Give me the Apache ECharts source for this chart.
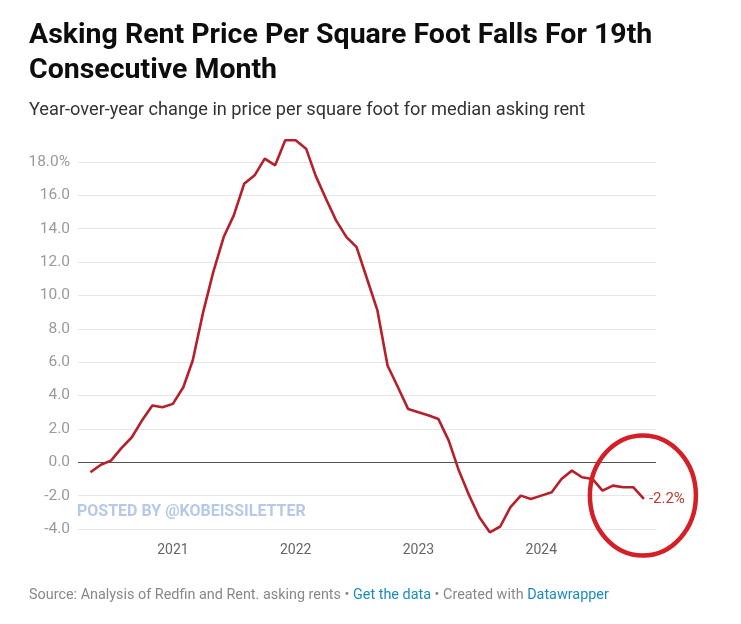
<!DOCTYPE html>
<html>
<head>
<meta charset="utf-8">
<script src="https://cdn.jsdelivr.net/npm/echarts@6/dist/echarts.min.js"></script>
<style>
html,body{margin:0;padding:0;background:#fff;}
#chart{width:741px;height:624px;}
</style>
</head>
<body>
<div id="chart"></div>
<script>
// Monthly observations (first of month)
const months = [
  '2020-05','2020-06','2020-07','2020-08','2020-09','2020-10','2020-11','2020-12',
  '2021-01','2021-02','2021-03','2021-04','2021-05','2021-06','2021-07','2021-08','2021-09','2021-10','2021-11','2021-12',
  '2022-01','2022-02','2022-03','2022-04','2022-05','2022-06','2022-07','2022-08','2022-09','2022-10','2022-11','2022-12',
  '2023-01','2023-02','2023-03','2023-04','2023-05','2023-06','2023-07','2023-08','2023-09','2023-10','2023-11','2023-12',
  '2024-01','2024-02','2024-03','2024-04','2024-05','2024-06','2024-07','2024-08','2024-09','2024-10','2024-11'
];
// Year-over-year change in price per sq ft, median asking rent (%)
const rentYoY = [
  -0.6, -0.15, 0.1, 0.85, 1.5, 2.5, 3.4, 3.3,
  3.5, 4.5, 6.1, 9.0, 11.4, 13.5, 14.8, 16.7, 17.2, 18.2, 17.8, 19.3,
  19.3, 18.8, 17.2, 15.8, 14.5, 13.5, 12.9, 11.0, 9.1, 5.8, 4.5, 3.2,
  3.0, 2.8, 2.6, 1.3, -0.5, -2.0, -3.3, -4.2, -3.85, -2.7, -2.0, -2.2,
  -2.0, -1.8, -1.0, -0.5, -0.9, -1.0, -1.7, -1.4, -1.5, -1.5, -2.2
];
const yearTicks = ['2021', '2022', '2023', '2024'];
const yTicks = [-4, -2, 0, 2, 4, 6, 8, 10, 12, 14, 16, 18];

const toTime = s => new Date(+s.slice(0, 4), +s.slice(5, 7) - 1, +(s.slice(8, 10) || 1)).getTime();
const seriesData = months.map((m, i) => [toTime(m), rentYoY[i]]);

const FONT = 'Roboto, "Noto Sans", sans-serif';
const chart = echarts.init(document.getElementById('chart'), null, {renderer: 'canvas'});

const option = {
  backgroundColor: '#ffffff',
  animation: false,
  textStyle: {fontFamily: FONT},
  title: [
    {
      text: 'Asking Rent Price Per Square Foot Falls For 19th\nConsecutive Month',
      left: 29, top: 18, padding: 0,
      textStyle: {fontFamily: FONT, fontSize: 28.5, fontWeight: 'bold', color: '#0d0d0d', lineHeight: 35}
    },
    {
      text: 'Year-over-year change in price per square foot for median asking rent',
      left: 29, top: 101, padding: 0,
      textStyle: {fontFamily: FONT, fontSize: 18.2, fontWeight: 'normal', color: '#333'}
    },
    {
      text: 'POSTED BY @KOBEISSILETTER',
      left: 77, top: 504, padding: 0,
      textStyle: {fontFamily: FONT, fontSize: 16, fontWeight: 'bold', color: '#b7c9e8'}
    },
    {
      text: '{g|Source: Analysis of Redfin and Rent. asking rents • }{b|Get the data}{g| • Created with }{b|Datawrapper}',
      left: 29, top: 588, padding: 0,
      textStyle: {
        fontFamily: FONT, fontSize: 14.4, fontWeight: 'normal',
        rich: {
          g: {fontFamily: FONT, fontSize: 14.4, color: '#888'},
          b: {fontFamily: FONT, fontSize: 14.4, color: '#1d8bbf'}
        }
      }
    }
  ],
  grid: {left: 78, right: 85, top: 162, bottom: 95, containLabel: false},
  xAxis: {
    type: 'value',
    min: toTime('2020-03-25'),
    max: toTime('2024-12-07'),
    axisLine: {show: false},
    axisTick: {show: false},
    splitLine: {show: false},
    axisLabel: {
      customValues: yearTicks.map(y => toTime(y + '-01-01')),
      formatter: v => String(new Date(v).getFullYear()),
      color: '#666', fontSize: 14, fontFamily: FONT, margin: 14
    }
  },
  yAxis: {
    type: 'value',
    min: -4, max: 18, interval: 2,
    axisLine: {show: false},
    axisTick: {show: false},
    splitLine: {lineStyle: {color: '#e6e6e6', width: 1}},
    axisLabel: {
      color: '#9a9a9a', fontSize: 15.5, fontFamily: FONT, margin: 8,
      formatter: v => yTicks.indexOf(v) < 0 ? '' : (v === 18 ? v.toFixed(1) + '%' : v.toFixed(1))
    }
  },
  series: [
    {
      type: 'line',
      data: seriesData,
      clip: false,
      showSymbol: false,
      symbol: 'none',
      z: 3,
      lineStyle: {color: '#b5202a', width: 2.6},
      endLabel: {
        show: true,
        formatter: p => p.value[1].toFixed(1) + '%',
        color: '#c0392b', fontSize: 15, fontFamily: FONT, distance: 5
      },
      markLine: {
        silent: true,
        symbol: 'none',
        label: {show: false},
        lineStyle: {color: '#555', width: 1, type: 'solid'},
        data: [{yAxis: 0}],
        z: 2
      }
    }
  ]
};
chart.setOption(option);

// Highlight circle around the latest reading
const last = seriesData[seriesData.length - 1];
const p = chart.convertToPixel({seriesIndex: 0}, last);
chart.setOption({
  graphic: [{
    type: 'ellipse',
    shape: {cx: p[0] - 1, cy: p[1] - 3.5, rx: 53, ry: 60},
    style: {fill: 'none', stroke: '#d41f27', lineWidth: 4.5},
    z: 10, silent: true
  }]
});
</script>
</body>
</html>
